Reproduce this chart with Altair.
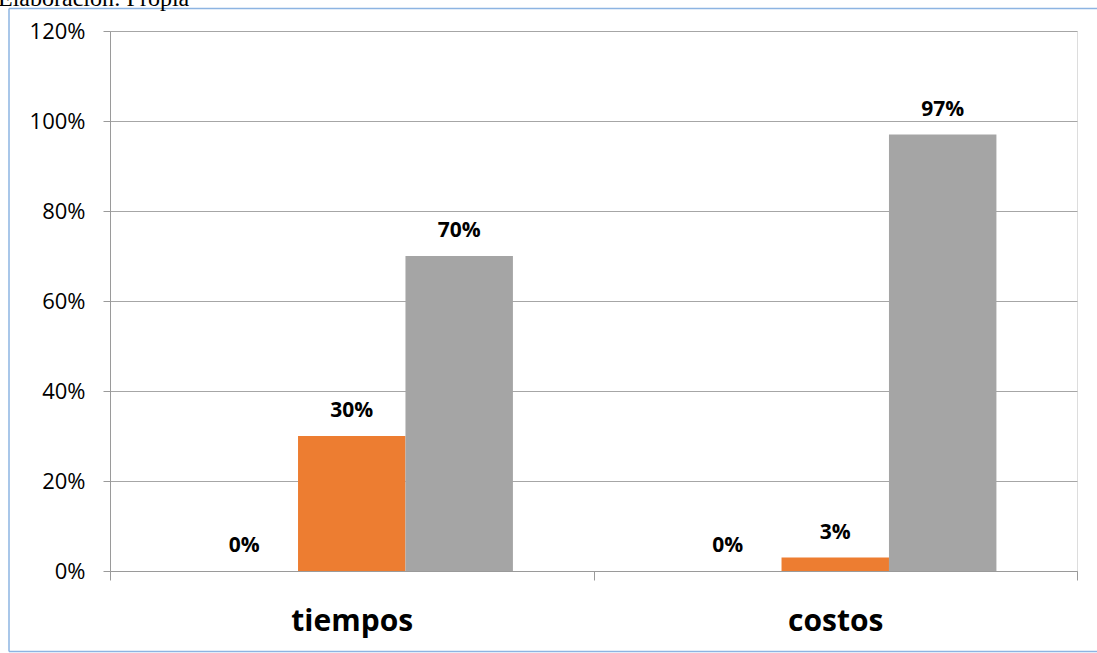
import altair as alt
import pandas as pd

categories = ["tiempos", "costos"]
series = ["Serie1", "Serie2", "Serie3"]
values = {
    "Serie1": [0.00, 0.00],
    "Serie2": [0.30, 0.03],
    "Serie3": [0.70, 0.97],
}
colors = ["#5B9BD5", "#ED7D31", "#A5A5A5"]
y_ticks = [0, 0.2, 0.4, 0.6, 0.8, 1.0, 1.2]
source_note = "Elaboración: Propia"

rows = []
for s in series:
    for c, v in zip(categories, values[s]):
        rows.append({"categoria": c, "serie": s, "valor": v})
df = pd.DataFrame(rows)

FONT = "Open Sans"

base = alt.Chart(df).encode(
    x=alt.X("categoria:N", sort=categories, title=None,
            scale=alt.Scale(paddingInner=0, paddingOuter=0),
            axis=alt.Axis(labelAngle=0, labelFont=FONT, labelFontSize=30,
                          labelFontWeight="bold", labelColor="black",
                          labelBaseline="alphabetic", labelPadding=50,
                          tickBand="extent", tickSize=9,
                          tickColor="#9A9A9A", domainColor="#9A9A9A",
                          grid=False)),
    xOffset=alt.XOffset("serie:N", sort=series,
                        scale=alt.Scale(paddingInner=0, paddingOuter=0.75)),
    y=alt.Y("valor:Q", title=None,
            scale=alt.Scale(domain=[0, 1.2], nice=False),
            axis=alt.Axis(values=y_ticks, format=".0%", labelFont=FONT,
                          labelFontSize=22, labelColor="black",
                          labelPadding=18, tickSize=7, tickColor="#9A9A9A",
                          domainColor="#9A9A9A", gridColor="#A6A6A6",
                          gridWidth=1)),
)

bars = base.mark_bar().encode(
    color=alt.Color("serie:N", sort=series,
                    scale=alt.Scale(domain=series, range=colors), legend=None)
)

labels = base.mark_text(font=FONT, fontSize=21, fontWeight="bold",
                        baseline="alphabetic", dy=-19, color="black").encode(
    text=alt.Text("valor:Q", format=".0%")
)

deco = pd.DataFrame({"nota": [source_note]})
BORDER = "#8DB4E2"

top_line = alt.Chart(deco).mark_rule(stroke=BORDER, strokeWidth=1.5).encode(
    x=alt.value(-101), x2=alt.value(987), y=alt.value(-22.5)
)
bottom_line = alt.Chart(deco).mark_rule(stroke=BORDER, strokeWidth=1.5).encode(
    x=alt.value(-101), x2=alt.value(987), y=alt.value(620.5)
)
left_line = alt.Chart(deco).mark_rule(stroke=BORDER, strokeWidth=1.5).encode(
    x=alt.value(-101), y=alt.value(-22.5), y2=alt.value(620.5)
)

note = alt.Chart(deco).mark_text(
    font="Liberation Serif", fontSize=24, align="left",
    baseline="alphabetic", color="black"
).encode(
    x=alt.value(-112), y=alt.value(-25), text="nota:N"
)

chart = alt.layer(top_line, bottom_line, left_line, note, bars, labels).properties(
    width=967, height=540,
    autosize=alt.AutoSizeParams(type="none"),
    padding={"left": 110, "top": 31, "right": 20, "bottom": 82},
).configure_view(stroke=None).configure(background="white")

chart.save("out.html", embed_options={"renderer": "svg", "actions": False})
